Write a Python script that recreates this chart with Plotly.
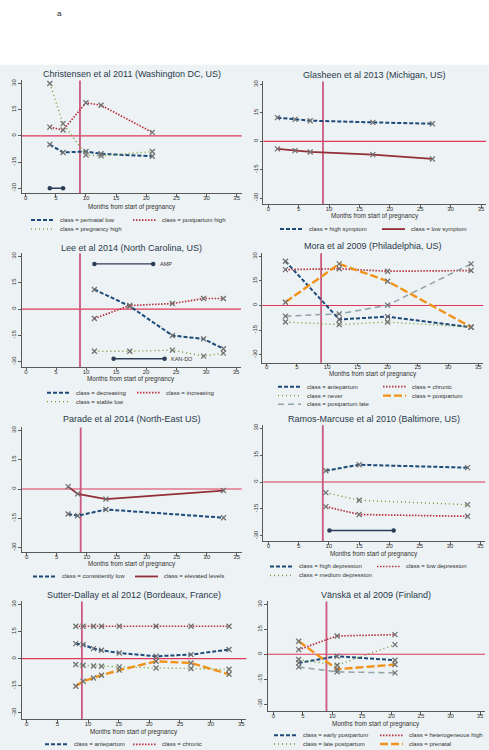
import plotly.graph_objects as go

W, H = 489, 750
FONT = "Liberation Sans, Arial, sans-serif"

# ---------------- data ----------------
# Christensen et al 2011
chr_months = [4, 6.2, 10, 12.5, 21]
chr_perinatal_low = [-5, -9.5, -9, -10.3, -11.7]
chr_postpartum_high = [5, 3.3, 19, 17.5, 2]
chr_pregnancy_high = [30, 7, -11, -11.5, -9]
chr_span_months = [4, 6.2]
chr_span_level = [-30, -30]

# Glasheen et al 2013
gla_months = [1.5, 4.4, 6.9, 17.2, 27]
gla_high_symptom = [12.5, 11.6, 10.9, 10.0, 9.3]
gla_low_symptom = [-4.0, -4.9, -5.6, -7.0, -9.3]

# Lee et al 2014
lee_months = [11.4, 17.3, 24.4, 29.6, 32.9]
lee_decreasing = [11.1, 1.6, -15.1, -17.0, -22.6]
lee_increasing = [-5.4, 2.0, 3.1, 6.0, 6.0]
lee_stable_low = [-24.0, -24.0, -23.4, -26.8, -25.1]
lee_amp_months = [11.4, 21.2]
lee_amp_level = [25.7, 25.7]
lee_kando_months = [14.6, 23.1]
lee_kando_level = [-28.3, -28.3]

# Mora et al 2009
mora_months = [3.1, 12.0, 20.0, 33.8]
mora_antepartum = [27.0, -8.5, -6.8, -13.2]
mora_chronic = [21.9, 22.4, 20.9, 21.3]
mora_never = [-10.1, -11.6, -10.1, -13.2]
mora_postpartum = [2.0, 25.4, 14.8, -13.2]
mora_postpartum_late = [-6.5, -5.1, 0.2, 25.4]

# Parade et al 2014
par_months = [6.9, 8.5, 13.2, 32.8]
par_consistently_low = [-12.8, -13.7, -10.5, -14.7]
par_elevated_levels = [1.2, -2.5, -5.2, -0.8]

# Ramos-Marcuse et al 2010
ram_months = [9.5, 15.0, 32.9]
ram_high_depression = [6.3, 9.6, 8.0]
ram_low_depression = [-13.7, -18.1, -19.1]
ram_medium_depression = [-5.9, -10.2, -12.6]
ram_span_months = [10.1, 20.7]
ram_span_level = [-27, -27]

# Sutter-Dallay et al 2012
sut_months = [8.0, 9.2, 10.9, 12.2, 15.1, 21.1, 26.8, 33.0]
sut_antepartum = [8.3, 7.7, 5.5, 4.6, 3.1, 1.3, 2.2, 5.0]
sut_chronic = [17.9, 17.9, 17.9, 17.9, 17.9, 17.9, 17.9, 17.9]
sut_never = [-3.3, -3.7, -4.1, -4.2, -4.6, -5.2, -5.5, -5.9]
sut_postpartum = [-15.3, -12.5, -10.7, -9.2, -6.4, -1.5, -2.4, -8.7]

# Vanska et al 2009
van_months = [4.3, 10.8, 20.6]
van_early_postpartum = [-5.2, -1.2, -3.6]
van_heterogeneous_high = [2.8, 11.0, 11.8]
van_late_postpartum = [-3.2, -6.6, 5.8]
van_prenatal = [7.8, -9.0, -6.2]
van_stable_low = [-7.6, -10.6, -11.2]

x_ticks = [0, 5, 10, 15, 20, 25, 30, 35]
y_ticks = [-30, -15, 0, 15, 30]
y_tick_text = ['-30', '-15', '0', '15', '30']
birth_month = 9

# ---------------- styles ----------------
STY = {
    'blue': dict(color='#1d4a78', width=2.0, dash='4px,2px'),
    'red': dict(color='#b8323f', width=1.7, dash='1.5px,1.5px'),
    'redsolid': dict(color='#922f37', width=1.8, dash='solid'),
    'green': dict(color='#6f9a2c', width=1.4, dash='1px,3px'),
    'orange': dict(color='#f0931a', width=2.4, dash='8px,3px'),
    'gray': dict(color='#8fa3aa', width=1.5, dash='6px,4px'),
}

panels = [
    dict(title='Christensen et al 2011 (Washington DC, US)', x=chr_months,
         series=[('class = perinatal low', chr_perinatal_low, 'blue'),
                 ('class = postpartum high', chr_postpartum_high, 'red'),
                 ('class = pregnancy high', chr_pregnancy_high, 'green')],
         g=dict(px0=25.7, px35=236.7, py30=81.7, pym30=186.7, left=21.7, bottom=192, ty=71.7, xt=205.7),
         leg=dict(k1=31, k2=133, rows=[218.7, 227.7]),
         spans=[(chr_span_months, chr_span_level, None)]),
    dict(title='Glasheen et al 2013 (Michigan, US)', x=gla_months,
         series=[('class = high symptom', gla_high_symptom, 'blue'),
                 ('class = low symptom', gla_low_symptom, 'redsolid')],
         g=dict(px0=268.3, px35=481, py30=82.7, pym30=196.7, left=263.3, bottom=202.7, ty=73.3, xt=214.3),
         leg=dict(k1=280, k2=382, rows=[227.7]),
         spans=[]),
    dict(title='Lee et al 2014 (North Carolina, US)', x=lee_months,
         series=[('class = decreasing', lee_decreasing, 'blue'),
                 ('class = increasing', lee_increasing, 'red'),
                 ('class = stable low', lee_stable_low, 'green')],
         g=dict(px0=26, px35=236, py30=255, pym30=360.7, left=21.7, bottom=366, ty=246.7, xt=377.8),
         leg=dict(k1=47, k2=137, rows=[391.7, 400.7]),
         spans=[(lee_amp_months, lee_amp_level, 'AMP'), (lee_kando_months, lee_kando_level, 'KAN-DO')]),
    dict(title='Mora et al 2009 (Philadelphia, US)', x=mora_months,
         series=[('class = antepartum', mora_antepartum, 'blue'),
                 ('class = chronic', mora_chronic, 'red'),
                 ('class = never', mora_never, 'green'),
                 ('class = postpartum', mora_postpartum, 'orange'),
                 ('class = postpartum late', mora_postpartum_late, 'gray')],
         g=dict(px0=266.7, px35=478.3, py30=255, pym30=353.6, left=262.3, bottom=361.7, ty=245, xt=373),
         leg=dict(k1=278, k2=383, rows=[385.7, 394.7, 403.3]),
         spans=[]),
    dict(title='Parade et al 2014 (North-East US)', x=par_months,
         series=[('class = consistently low', par_consistently_low, 'blue'),
                 ('class = elevated levels', par_elevated_levels, 'redsolid')],
         g=dict(px0=26.7, px35=236.7, py30=429.6, pym30=547, left=21.7, bottom=551.7, ty=418.5, xt=564),
         leg=dict(k1=33, k2=135, rows=[576]),
         spans=[]),
    dict(title='Ramos-Marcuse et al 2010 (Baltimore, US)', x=ram_months,
         series=[('class = high depression', ram_high_depression, 'blue'),
                 ('class = low depression', ram_low_depression, 'red'),
                 ('class = medium depression', ram_medium_depression, 'green')],
         g=dict(px0=268.3, px35=480.3, py30=427.3, pym30=535.3, left=263.3, bottom=540.7, ty=418, xt=553.4),
         leg=dict(k1=270, k2=377, rows=[566, 575]),
         spans=[(ram_span_months, ram_span_level, None)]),
    dict(title='Sutter-Dallay et al 2012 (Bordeaux, France)', x=sut_months,
         series=[('class = antepartum', sut_antepartum, 'blue'),
                 ('class = chronic', sut_chronic, 'red'),
                 ('class = never', sut_never, 'green'),
                 ('class = postpartum', sut_postpartum, 'orange')],
         g=dict(px0=26.7, px35=241.3, py30=604, pym30=712.7, left=21.7, bottom=719.3, ty=595, xt=731.9),
         leg=dict(k1=45, k2=133, rows=[744.3]),
         spans=[]),
    dict(title='Vänskä et al 2009 (Finland)', x=van_months,
         series=[('class = early postpartum', van_early_postpartum, 'blue'),
                 ('class = heterogeneous high', van_heterogeneous_high, 'red'),
                 ('class = late postpartum', van_late_postpartum, 'green'),
                 ('class = prenatal', van_prenatal, 'orange'),
                 ('class = stable low', van_stable_low, 'gray')],
         g=dict(px0=273.3, px35=480, py30=604, pym30=704, left=267.7, bottom=711, ty=595, xt=723.5),
         leg=dict(k1=274, k2=380, rows=[735.3, 744]),
         spans=[]),
]

fig = go.Figure()
shapes = []
annotations = []

# panel background
shapes.append(dict(type='rect', xref='paper', yref='paper', x0=0, x1=1, y0=0, y1=1 - 63 / H,
                   fillcolor='#edf2f4', line=dict(width=0), layer='below'))
annotations.append(dict(text='a', xref='paper', yref='paper', x=55 / W, y=1 - 5.5 / H,
                        showarrow=False, font=dict(size=8, color='#222', family=FONT)))

layout_axes = {}
for i, p in enumerate(panels, start=1):
    g = p['g']
    xid = 'x' if i == 1 else f'x{i}'
    yid = 'y' if i == 1 else f'y{i}'
    sx = (g['px35'] - g['px0']) / 35.0
    right = g['px35'] + 5
    top = g['py30'] - 3
    sy = (g['pym30'] - g['py30']) / 60.0
    xr = [(g['left'] - g['px0']) / sx, (right - g['px0']) / sx]
    yr = [30 - (g['bottom'] - g['py30']) / sy, 30 - (top - g['py30']) / sy]
    axis_common = dict(showline=True, linecolor='#5a5a5a', linewidth=0.8, ticks='outside',
                       ticklen=2.5, tickwidth=0.8, tickcolor='#5a5a5a', showgrid=False, zeroline=False,
                       tickfont=dict(size=6, color='#333', family=FONT), fixedrange=True)
    layout_axes['xaxis' if i == 1 else f'xaxis{i}'] = dict(
        axis_common, domain=[g['left'] / W, right / W], range=xr, anchor=yid,
        tickmode='array', tickvals=x_ticks, ticklabelstandoff=-4)
    layout_axes['yaxis' if i == 1 else f'yaxis{i}'] = dict(
        axis_common, domain=[1 - g['bottom'] / H, 1 - top / H], range=yr, anchor=xid,
        tickmode='array', tickvals=y_ticks, ticktext=y_tick_text, tickangle=-90,
        ticklabelstandoff=0)

    # reference lines
    shapes.append(dict(type='line', xref=f'{xid} domain', x0=0, x1=1, yref=yid, y0=0, y1=0,
                       line=dict(color='#e0375a', width=1.2), layer='below'))
    shapes.append(dict(type='line', xref=xid, x0=birth_month, x1=birth_month, yref=f'{yid} domain',
                       y0=0, y1=1, line=dict(color='#c95a7e', width=1.8), layer='below'))

    # series
    for name, yv, st in p['series']:
        fig.add_trace(go.Scatter(
            x=p['x'], y=yv, name=name, mode='lines+markers', xaxis=xid, yaxis=yid,
            line=STY[st], showlegend=False, cliponaxis=False,
            marker=dict(symbol='x-thin', size=5, color='#727272', line=dict(width=1.3, color='#727272'))))

    # spans
    for sx_, sy_, lab in p['spans']:
        fig.add_trace(go.Scatter(
            x=sx_, y=sy_, mode='lines+markers', xaxis=xid, yaxis=yid, showlegend=False,
            line=dict(color='#2c3e56', width=1.4),
            marker=dict(symbol='circle', size=4.5, color='#2c3e56')))
        if lab:
            annotations.append(dict(text=lab, xref=xid, yref=yid, x=sx_[-1] + 0.8, y=sy_[-1],
                                    xanchor='left', yanchor='middle', showarrow=False,
                                    font=dict(size=5.5, color='#333', family=FONT)))

    cx = (g['left'] + right) / 2 / W
    annotations.append(dict(text=p['title'], xref='paper', yref='paper', x=cx, y=1 - g['ty'] / H,
                            xanchor='center', yanchor='middle', showarrow=False,
                            font=dict(size=9, color='#2a3a4c', family=FONT)))
    annotations.append(dict(text='Months from start of pregnancy', xref='paper', yref='paper',
                            x=cx, y=1 - g['xt'] / H, xanchor='center', yanchor='middle',
                            showarrow=False, font=dict(size=6.3, color='#333', family=FONT)))

    # legend (two columns; rows beyond the visible page are omitted)
    L = p['leg']
    for k, (name, yv, st) in enumerate(p['series']):
        row, col = divmod(k, 2)
        if row >= len(L['rows']):
            continue
        ry = L['rows'][row]
        kx = L['k1'] if col == 0 else L['k2']
        shapes.append(dict(type='line', xref='paper', yref='paper', x0=kx / W, x1=(kx + 23) / W,
                           y0=1 - ry / H, y1=1 - ry / H, line=STY[st]))
        annotations.append(dict(text=name, xref='paper', yref='paper', x=(kx + 27) / W, y=1 - ry / H,
                                xanchor='left', yanchor='middle', showarrow=False,
                                font=dict(size=6, color='#333', family=FONT)))

fig.update_layout(
    width=W, height=H, margin=dict(l=0, r=0, t=0, b=0),
    paper_bgcolor='white', plot_bgcolor='rgba(0,0,0,0)',
    showlegend=False, shapes=shapes, annotations=annotations,
    font=dict(family=FONT), **layout_axes)

fig.write_html('out.html', config={'displayModeBar': False}, post_script=(
    "document.body.style.margin='0';document.body.style.padding='0';"
    "document.body.style.overflow='hidden';"))
